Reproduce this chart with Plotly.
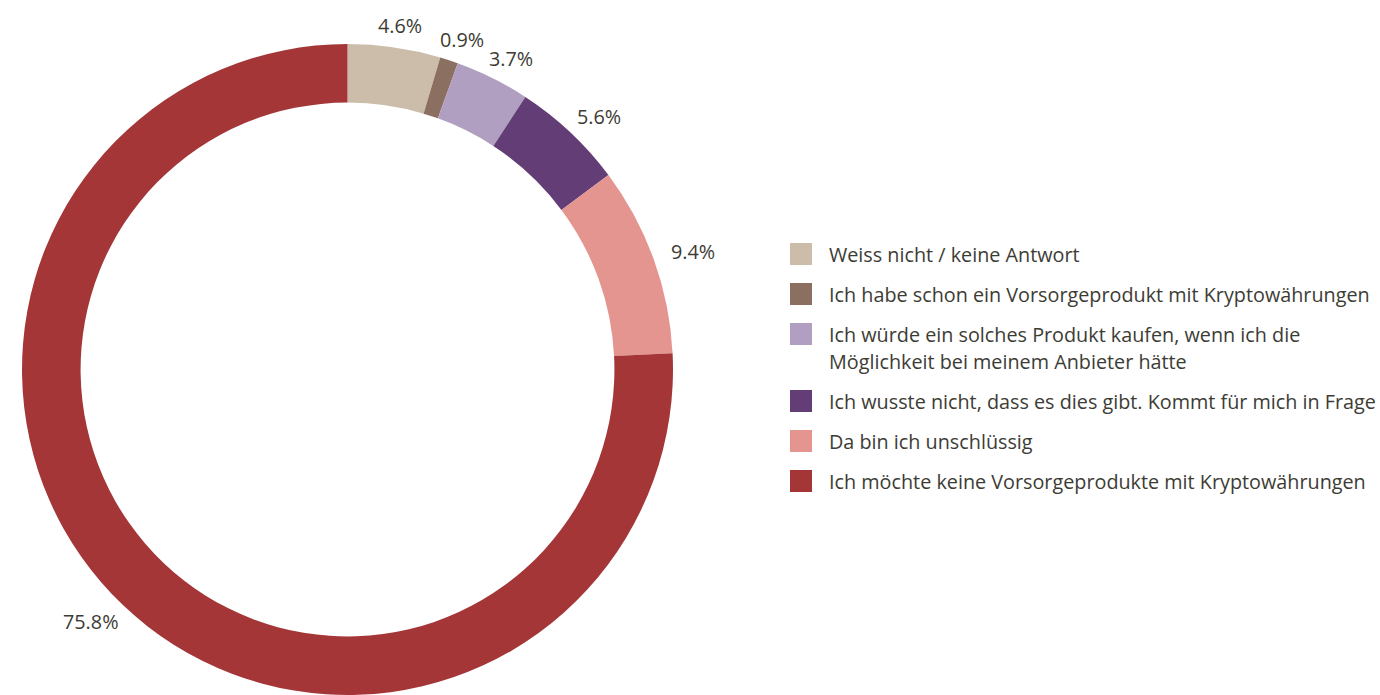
import math
import plotly.graph_objects as go

categories = [
    "Weiss nicht / keine Antwort",
    "Ich habe schon ein Vorsorgeprodukt mit Kryptowährungen",
    "Ich würde ein solches Produkt kaufen, wenn ich die<br>Möglichkeit bei meinem Anbieter hätte",
    "Ich wusste nicht, dass es dies gibt. Kommt für mich in Frage",
    "Da bin ich unschlüssig",
    "Ich möchte keine Vorsorgeprodukte mit Kryptowährungen",
]
values = [4.6, 0.9, 3.7, 5.6, 9.4, 75.8]
colors = ["#CBBDAA", "#8B6F60", "#B09FC0", "#633E76", "#E49590", "#A43638"]

W, H = 1380, 695
FONT = "Open Sans, Noto Sans, sans-serif"
TXT = "#3c3c34"
FS = 19.8

dom_x = [20 / W, 675 / W]
dom_y = [0, 1 - 44 / H]

fig = go.Figure()
fig.add_trace(go.Pie(
    labels=[c.replace("<br>", " ") for c in categories],
    values=values,
    marker=dict(colors=colors, line=dict(width=0)),
    hole=0.82,
    sort=False,
    direction="clockwise",
    rotation=0,
    textinfo="none",
    showlegend=False,
    domain=dict(x=dom_x, y=dom_y),
    hoverinfo="label+value",
))

# pie geometry in pixel units (paper, top-left origin)
pw, ph = (dom_x[1] - dom_x[0]) * W, (dom_y[1] - dom_y[0]) * H
cx = (dom_x[0] + dom_x[1]) / 2 * W
cy = H - (dom_y[0] + dom_y[1]) / 2 * H
R = min(pw, ph) / 2

CW = {"0": .572, "1": .572, "2": .572, "3": .572, "4": .572, "5": .572, "6": .572,
      "7": .572, "8": .572, "9": .572, ".": .266, "%": .83}

def text_w(s):
    return sum(CW.get(ch, .57) for ch in s) * FS

total = sum(values)
cum = 0.0
gap, extra = 12, 8
for v in values:
    th = math.radians(360 * (cum + v / 2) / total)
    cum += v
    s, c = math.sin(th), math.cos(th)
    lbl = f"{v:.1f}%"
    w, h = text_w(lbl), FS
    d = R + gap
    x = cx + s * d + s * (w / 2 + extra)
    y = cy - c * d - c * h / 2
    fig.add_annotation(x=x, y=y, xref="x", yref="y", text=lbl, showarrow=False,
                       xanchor="center", yanchor="middle",
                       font=dict(family=FONT, size=FS, color=TXT))

# custom legend on a hidden pixel-unit axis
sq_x, txt_dx = 801, 26
legend_top, row_gap, line_h = 254, 40, 27
rows = []
yy = legend_top
for cat in categories:
    rows.append(yy)
    yy += row_gap + line_h * cat.count("<br>")

fig.add_trace(go.Scatter(
    x=[sq_x] * len(categories), y=rows, mode="markers",
    marker=dict(symbol="square", size=22, color=colors, line=dict(width=0)),
    showlegend=False, hoverinfo="skip", xaxis="x", yaxis="y",
))
for cat, r in zip(categories, rows):
    for i, line in enumerate(cat.split("<br>")):
        fig.add_annotation(
            x=sq_x + txt_dx, y=r + i * line_h, xref="x", yref="y", text=line,
            showarrow=False, xanchor="left", yanchor="middle", align="left",
            font=dict(family=FONT, size=FS, color=TXT),
        )

fig.update_layout(
    width=W, height=H,
    margin=dict(l=0, r=0, t=0, b=0),
    paper_bgcolor="white", plot_bgcolor="rgba(0,0,0,0)",
    xaxis=dict(domain=[0, 1], range=[0, W], visible=False, fixedrange=True),
    yaxis=dict(domain=[0, 1], range=[H, 0], visible=False, fixedrange=True),
    font=dict(family=FONT, color=TXT),
)
fig.write_html("out.html", config={"displayModeBar": False},
               post_script="document.body.style.margin='0';document.body.style.overflow='hidden';")
